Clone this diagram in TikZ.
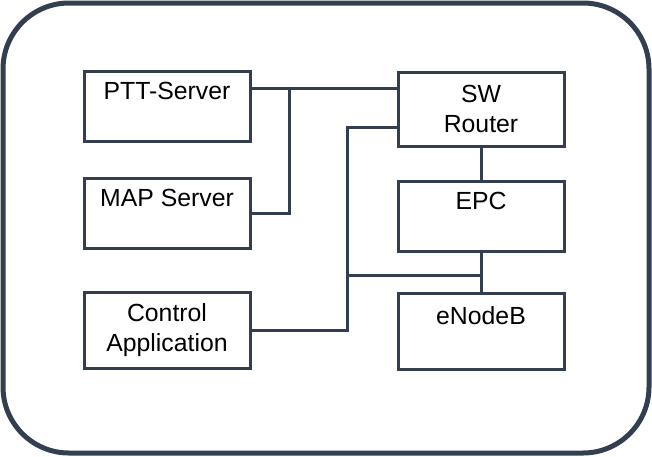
\documentclass[tikz,border=0pt]{standalone}
\usepackage{fontspec}
\setmainfont{Liberation Sans}
\usepackage{tikz}
\usetikzlibrary{positioning}

\definecolor{slate}{HTML}{333F50}

\begin{document}
\begin{tikzpicture}[x=1pt, y=-1pt, node distance=34pt, auto,
    box/.style={rectangle, draw=slate, line width=3pt, minimum width=166pt, minimum height=70pt,
        align=center, font=\fontsize{24.8pt}{30pt}\selectfont},
    wire/.style={draw=slate, line width=3pt}]
    \useasboundingbox (0,0) rectangle (652,456);
    \draw[slate, line width=5pt, rounded corners=66pt] (3,3) rectangle (649,453);

    % left column
    \node[box] (ptt) at (167,106) {PTT-Server\\~};
    \node[box, below=of ptt] (map) {MAP Server\\~};
    \node[box, minimum height=76pt, below=41pt of map] (ctrl) {Control\\Application};

    % right column
    \node[box, minimum height=74pt] (router) at (481,109) {SW\\Router};
    \node[box, below=32pt of router] (epc) {EPC\\~};
    \node[box, minimum height=76pt, below=39pt of epc] (enb) {eNodeB\\~};

    \coordinate (tap1) at (289,88);
    \coordinate (tap2) at (347,275);

    \draw[wire] ([yshift=18pt]ptt.east) -- ([yshift=18pt]ptt.east -| router.west);
    \draw[wire] (map.east) -| (tap1);
    \draw[wire] (ctrl.east) -| (tap2) |- ([yshift=-18pt]router.west);
    \draw[wire] (tap2) -- (tap2 -| epc.south);
    \draw[wire] (router) -- (epc);
    \draw[wire] (epc) -- (enb);
\end{tikzpicture}
\end{document}
